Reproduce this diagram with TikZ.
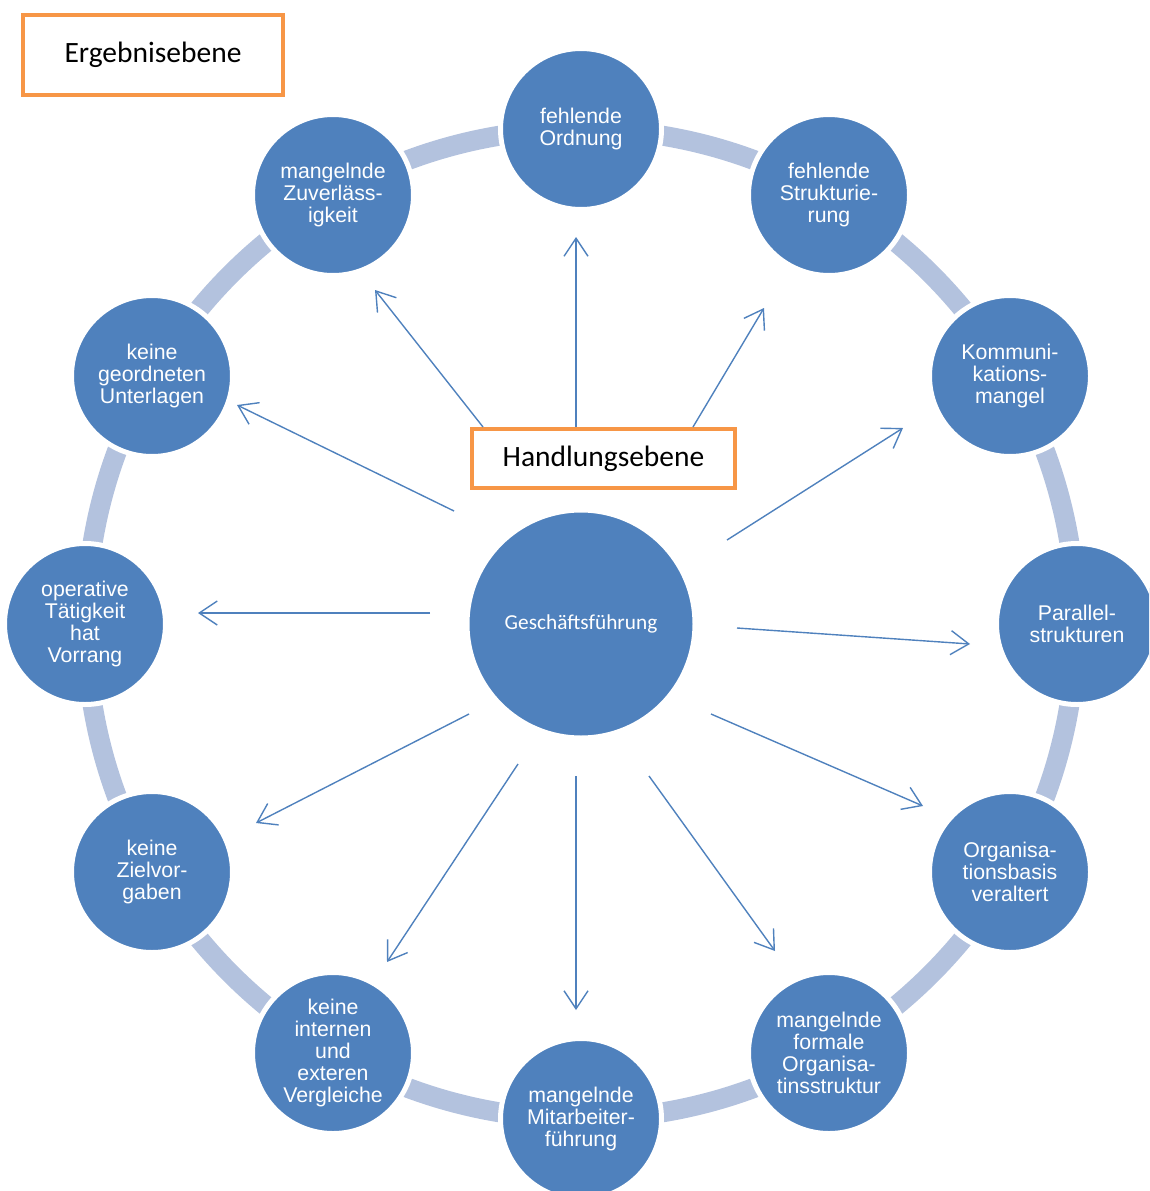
\documentclass[tikz,border=0pt]{standalone}
\usepackage{fontspec}
\setmainfont{Liberation Sans}
\newfontfamily\calibri{Carlito}
\usetikzlibrary{arrows.meta}
\definecolor{accblue}{HTML}{4F81BD}
\definecolor{ringblue}{HTML}{B3C2DE}
\definecolor{accorange}{HTML}{F79646}
\begin{document}
\begin{tikzpicture}[x=1pt,y=-1pt,
  outer/.style={circle, fill=accblue, draw=white, line width=5pt, minimum size=161pt,
    inner sep=0pt, text=white, align=center, font=\fontsize{21.3}{22}\selectfont},
  hub/.style={circle, fill=accblue, draw=white, line width=3pt, minimum size=226pt,
    inner sep=0pt, text=white, font=\calibri\fontsize{21.3}{23}\selectfont},
  levelbox/.style={draw=accorange, line width=4pt, fill=white, inner sep=0pt,
    font=\calibri\fontsize{29.5}{31}\selectfont},
  link/.style={draw=accblue, line width=1.4pt,
    -{Straight Barb[length=18pt,width=24pt,line width=1.4pt]}}
]
\useasboundingbox (0,0) rectangle (1149,1191);
\clip (0,0) rectangle (1149,1191);

% ring connecting the outer circles
\draw[ringblue, line width=20pt] (581,624) circle[radius=495pt];

% central circle
\node[hub] (gf) at (581,624) {Geschäftsführung};

% outer circles, clockwise from the top
\node[outer] (c1)  at (581,129)  {fehlende\\Ordnung};
\node[outer] (c2)  at (829,195)  {fehlende\\Strukturie-\\rung};
\node[outer] (c3)  at (1010,376) {Kommuni-\\kations-\\mangel};
\node[outer] (c4)  at (1077,624) {Parallel-\\strukturen};
\node[outer] (c5)  at (1010,872) {Organisa-\\tionsbasis\\veraltert};
\node[outer] (c6)  at (829,1053) {mangelnde\\formale\\Organisa-\\tinsstruktur};
\node[outer] (c7)  at (581,1119) {mangelnde\\Mitarbeiter-\\führung};
\node[outer] (c8)  at (333,1053) {keine\\internen\\und\\exteren\\Vergleiche};
\node[outer] (c9)  at (152,872)  {keine\\Zielvor-\\gaben};
\node[outer] (c10) at (85,624)   {operative\\Tätigkeit\\hat\\Vorrang};
\node[outer] (c11) at (152,376)  {keine\\geordneten\\Unterlagen};
\node[outer] (c12) at (333,195)  {mangelnde\\Zuverläss-\\igkeit};

% level labels
\node[levelbox, minimum width=260pt, minimum height=80pt] (ergebnis) at (153,55) {Ergebnisebene};
\node[levelbox, minimum width=263pt, minimum height=59pt] (handlung) at (603.5,458.5) {Handlungsebene};

% arrow start and end points
\coordinate (s1)  at (576,427);  \coordinate (e1)  at (576,237);
\coordinate (s2)  at (483,427);  \coordinate (e2)  at (375,290);
\coordinate (s3)  at (693,427);  \coordinate (e3)  at (764,308);
\coordinate (s4)  at (727,540);  \coordinate (e4)  at (903,428);
\coordinate (s5)  at (737,628);  \coordinate (e5)  at (970,644);
\coordinate (s6)  at (711,714);  \coordinate (e6)  at (923,806);
\coordinate (s7)  at (649,776);  \coordinate (e7)  at (775,951);
\coordinate (s8)  at (576,776);  \coordinate (e8)  at (576,1010);
\coordinate (s9)  at (518,764);  \coordinate (e9)  at (387,962);
\coordinate (s10) at (469,714);  \coordinate (e10) at (256,823);
\coordinate (s11) at (430,613);  \coordinate (e11) at (198,613);
\coordinate (s12) at (454,511);  \coordinate (e12) at (237,405);

\foreach \i in {1,...,12} {
  \draw[link] (s\i) -- (e\i);
}
\end{tikzpicture}
\end{document}
